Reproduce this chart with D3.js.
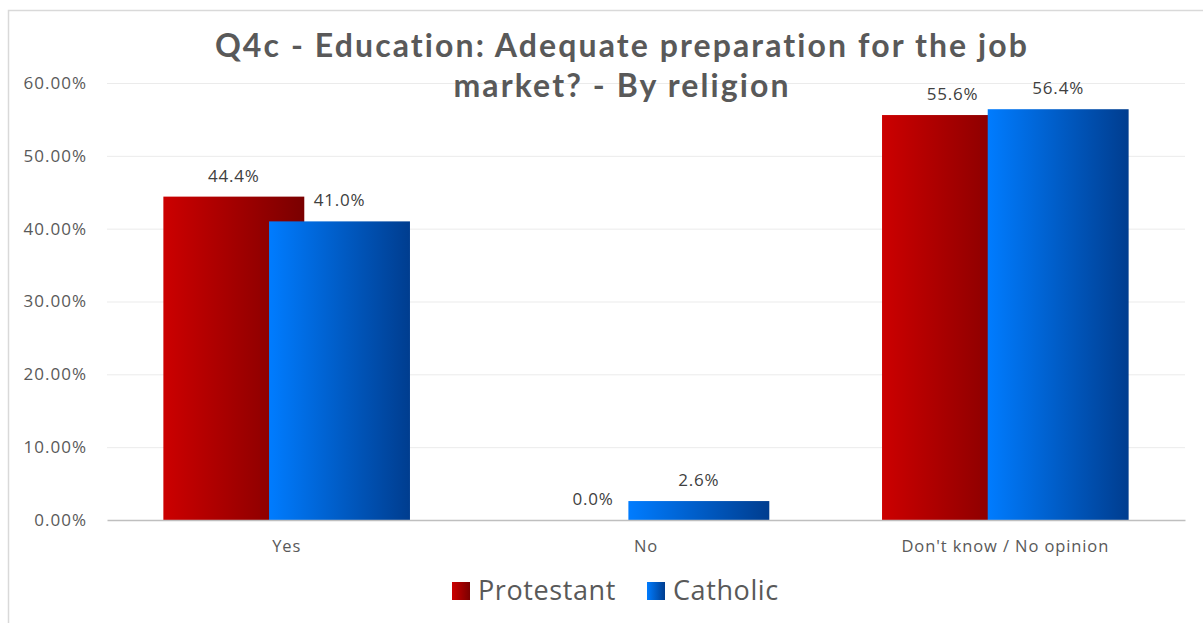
<!DOCTYPE html>
<html>
<head>
	<meta charset="utf-8" />
	<script src="https://cdn.jsdelivr.net/npm/d3@7"></script>
	<style>
		body { margin: 0; background: #fff; }
		.title { font-family: Lato, "Open Sans", sans-serif; font-weight: bold; font-size: 32px; letter-spacing: 2.1px; fill: #595959; }
		.tick text { font-family: "Open Sans", sans-serif; font-size: 17px; letter-spacing: 1px; fill: #595959; }
		.datalabel { font-family: "Open Sans", sans-serif; font-size: 17px; letter-spacing: 0.8px; fill: #404040; }
		.legendtext { font-family: "Open Sans", sans-serif; font-size: 27px; letter-spacing: 0.6px; fill: #595959; }
	</style>
</head>
<body>
	<script>
		var width = 1203;
		var height = 623;

		// data
		var categories = ["Yes", "No", "Don't know / No opinion"];
		var seriesNames = ["Protestant", "Catholic"];
		var protestant = [44.4, 0.0, 55.6];
		var catholic = [41.0, 2.6, 56.4];
		var yTicks = [0, 10, 20, 30, 40, 50, 60];

		var margin = {left: 107, right: 18, top: 83, bottom: 103};
		var plotW = width - margin.left - margin.right;
		var plotH = height - margin.top - margin.bottom;

		var svg = d3.select("body").append("svg")
			.attr("width", width)
			.attr("height", height);

		// gradients
		var defs = svg.append("defs");
		var gradStops = [
			["gradRed", "#cc0000", "#7a0000"],
			["gradBlue", "#007cff", "#003d8f"]
		];
		gradStops.forEach(function(g) {
			var lg = defs.append("linearGradient").attr("id", g[0])
				.attr("x1", "0%").attr("x2", "100%").attr("y1", "0%").attr("y2", "0%");
			lg.append("stop").attr("offset", "0%").attr("stop-color", g[1]);
			lg.append("stop").attr("offset", "100%").attr("stop-color", g[2]);
		});

		// chart border
		svg.append("rect")
			.attr("x", 8.5).attr("y", 10.5)
			.attr("width", 1200).attr("height", 620)
			.attr("fill", "white")
			.attr("stroke", "#d9d9d9")
			.attr("stroke-width", 1.5);

		var g = svg.append("g").attr("transform", "translate(" + margin.left + "," + margin.top + ")");

		var x = d3.scaleBand().domain(categories).range([0, plotW]);
		var y = d3.scaleLinear().domain([0, 60]).range([plotH, 0]);

		// gridlines
		g.append("g").selectAll("line")
			.data(yTicks.filter(function(d) { return d > 0; }))
			.enter().append("line")
			.attr("x1", 0).attr("x2", plotW)
			.attr("y1", function(d) { return y(d) + 0.5; })
			.attr("y2", function(d) { return y(d) + 0.5; })
			.attr("stroke", "#ebebeb");

		// y axis
		var yAxis = g.append("g")
			.call(d3.axisLeft(y).tickValues(yTicks).tickSize(0).tickPadding(20)
				.tickFormat(function(d) { return d.toFixed(2) + "%"; }));
		yAxis.select(".domain").remove();

		// bars: gap 80%, overlap 25%
		var bw = x.bandwidth() / 2.55;
		var offsets = [0.4 * bw, 1.15 * bw];
		var series = [protestant, catholic];
		var fills = ["url(#gradRed)", "url(#gradBlue)"];

		series.forEach(function(vals, si) {
			var rows = categories.map(function(c, i) { return {cat: c, v: vals[i]}; });
			g.append("g").selectAll("rect")
				.data(rows)
				.enter().append("rect")
				.attr("x", function(d) { return x(d.cat) + offsets[si]; })
				.attr("y", function(d) { return y(d.v); })
				.attr("width", bw)
				.attr("height", function(d) { return plotH - y(d.v); })
				.attr("fill", fills[si]);

			g.append("g").selectAll("text")
				.data(rows)
				.enter().append("text")
				.attr("class", "datalabel")
				.attr("x", function(d) { return x(d.cat) + offsets[si] + bw / 2; })
				.attr("y", function(d) { return y(d.v) - 15; })
				.attr("text-anchor", "middle")
				.text(function(d) { return d.v.toFixed(1) + "%"; });
		});

		// x axis
		var xAxis = g.append("g")
			.attr("transform", "translate(0," + plotH + ")")
			.call(d3.axisBottom(x).tickSize(0).tickPadding(20));
		xAxis.select(".domain").attr("stroke", "#bfbfbf").attr("stroke-width", 1.5);
		xAxis.selectAll(".tick text").style("font-size", "16.5px").style("letter-spacing", "0.9px");

		// title
		var titleLines = ["Q4c - Education: Adequate preparation for the job", "market? - By religion"];
		svg.append("text")
			.attr("class", "title")
			.attr("text-anchor", "middle")
			.selectAll("tspan")
			.data(titleLines)
			.enter().append("tspan")
			.attr("x", 622)
			.attr("y", function(d, i) { return 57 + i * 40; })
			.text(function(d) { return d; });

		// legend
		var legendX = [452, 647];
		var legend = svg.append("g");
		seriesNames.forEach(function(name, i) {
			legend.append("rect")
				.attr("x", legendX[i]).attr("y", 582)
				.attr("width", 18).attr("height", 18)
				.attr("fill", fills[i]);
			legend.append("text")
				.attr("class", "legendtext")
				.attr("x", legendX[i] + 26).attr("y", 600)
				.text(name);
		});
	</script>
</body>
</html>
